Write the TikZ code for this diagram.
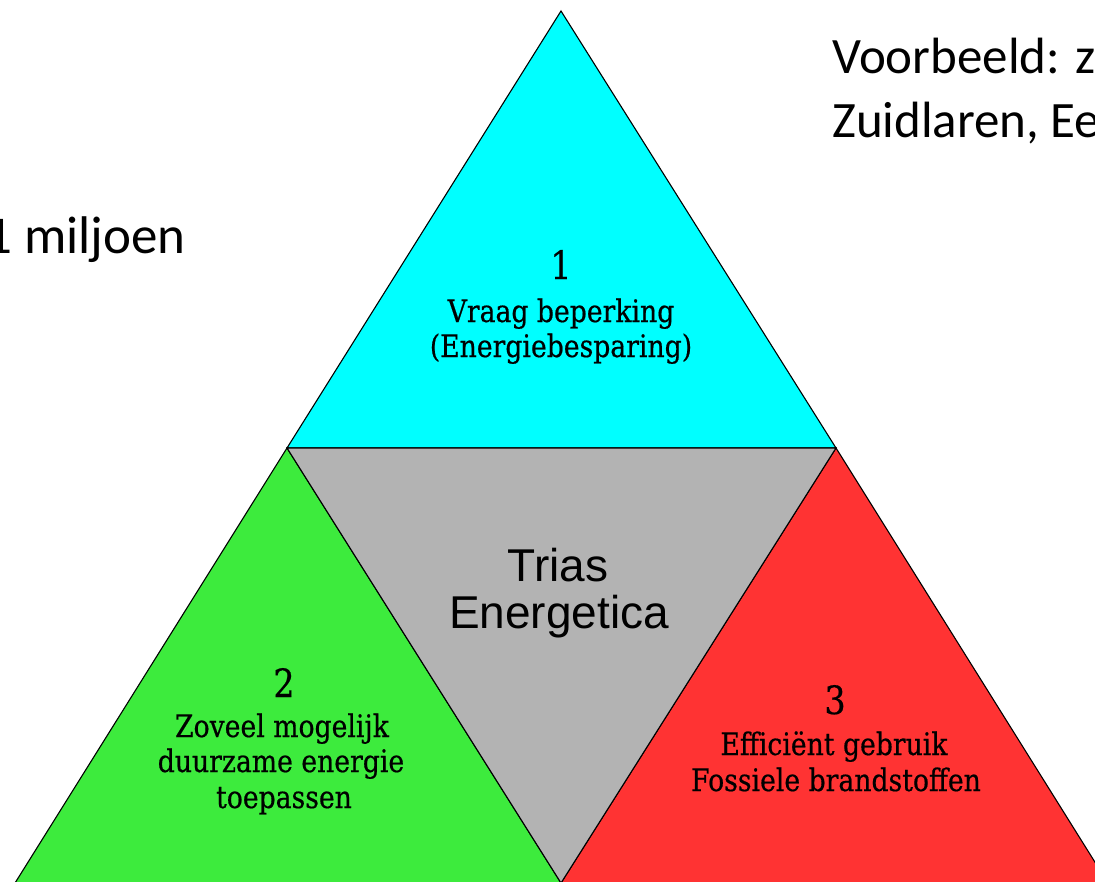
\documentclass[tikz,border=0pt]{standalone}
\usepackage{fontspec}
\setmainfont{DejaVu Serif}[FakeStretch=0.86]
\newfontfamily\lblfont{DejaVu Serif}[FakeStretch=0.86, FakeBold=0.5]
\newfontfamily\calibrifont{Carlito}
\newfontfamily\arialfont{Liberation Sans}
\definecolor{tcyan}{HTML}{00FFFF}
\definecolor{tgreen}{HTML}{3DEB3D}
\definecolor{tred}{HTML}{FF3333}
\definecolor{tgray}{HTML}{B3B3B3}
\tikzset{
  tri/.style={draw=black, line width=1.1pt, line join=miter},
  num/.style={anchor=base, inner sep=0pt, font=\lblfont\fontsize{39}{42}\selectfont},
  lbl/.style={anchor=base, inner sep=0pt, font=\lblfont\fontsize{31}{34}\selectfont},
  outer/.style={anchor=base west, inner sep=0pt, font=\calibrifont\fontsize{51}{60}\selectfont},
  trias/.style={anchor=base, inner sep=0pt, font=\arialfont\fontsize{46}{50}\selectfont}
}
\begin{document}
\begin{tikzpicture}[x=1pt,y=-1pt]
\useasboundingbox (0,0) rectangle (1095,881);
\fill[white] (0,0) rectangle (1095,881);
\clip (0,0) rectangle (1095,881);
\coordinate (A) at (561,11);
\coordinate (L) at (287,448);
\coordinate (R) at (836,448);
\coordinate (BL) at (15,883);
\coordinate (BM) at (561,883);
\coordinate (BR) at (1108,883);
\filldraw[tri, fill=tcyan] (A) -- (L) -- (R) -- cycle;
\filldraw[tri, fill=tgreen] (L) -- (BL) -- (BM) -- cycle;
\filldraw[tri, fill=tred] (R) -- (BM) -- (BR) -- cycle;
\filldraw[tri, fill=tgray] (L) -- (R) -- (BM) -- cycle;
% top triangle
\node[num] (n1) at (561,279) {1};
\node[lbl] (t1a) at (561,322) {Vraag beperking};
\node[lbl] (t1b) at (561,357) {(Energiebesparing)};
% left triangle
\node[num] (n2) at (284,697) {2};
\node[lbl] (t2a) at (282,737) {Zoveel mogelijk};
\node[lbl] (t2b) at (281,772) {duurzame energie};
\node[lbl] (t2c) at (284,808) {toepassen};
% right triangle
\node[num] (n3) at (835,714) {3};
\node[lbl] (t3a) at (834,755) {Efficiënt gebruik};
\node[lbl] (t3b) at (836,791) {Fossiele brandstoffen};
% centre
\node[trias] (c1) at (558,581) {Trias};
\node[trias] (c2) at (559,628) {Energetica};
% outer texts
\node[outer] (o1) at (832,73) {Voorbeeld: z};
\node[outer] (o2) at (832,137) {Zuidlaren, Ee};
\node[outer, font=\calibrifont\fontsize{53}{60}\selectfont] (o3) at (-15,253) {1 miljoen};
\end{tikzpicture}
\end{document}
